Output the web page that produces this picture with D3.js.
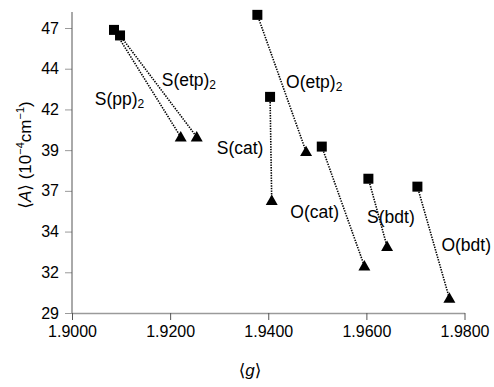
<!DOCTYPE html>
<html>
<head>
<meta charset="utf-8">
<script src="https://cdn.jsdelivr.net/npm/d3@7"></script>
<style>
  html, body { margin: 0; padding: 0; background: #fff; }
  svg { display: block; font-family: "Liberation Sans", Arial, sans-serif; }
</style>
</head>
<body>
<svg id="chart" width="494" height="387"></svg>
<script>
// ---- data ----
const seriesNames = ["S(pp)", "S(etp)", "S(cat)", "O(etp)", "O(cat)", "S(bdt)", "O(bdt)"];
const seriesSub   = ["2", "2", "", "2", "", "", ""];
const gSquare     = [1.90856, 1.90979, 1.94037, 1.93778, 1.95091, 1.96041, 1.97040];
const aSquare     = [46.88, 46.53, 42.65, 47.83, 39.51, 37.48, 36.98];
const gTriangle   = [1.92216, 1.92542, 1.94071, 1.94771, 1.95959, 1.96422, 1.97692];
const aTriangle   = [40.12, 40.12, 36.11, 39.19, 31.97, 33.20, 29.93];
const xTickValues = [1.90, 1.92, 1.94, 1.96, 1.98];
const yMin = 29, yMax = 47, yTickCount = 8;

// ---- layout (label offsets in px relative to the triangle point) ----
const labelOffsets = [[-86, -32], [-35, -51], [-55, -46], [-20, -64], [-74, -48], [-20, -24], [-8, -47]];

const svg = d3.select("#chart");
const x = d3.scaleLinear().domain([1.90, 1.98]).range([72, 464.5]);
const y = d3.scaleLinear().domain([yMin, yMax]).range([313, 28]);
const yTickValues = d3.range(yTickCount).map(i => yMin + i * (yMax - yMin) / (yTickCount - 1));

// x axis
const xAxis = svg.append("g").attr("transform", "translate(0,313)")
  .call(d3.axisBottom(x).tickValues(xTickValues).tickFormat(d3.format(".4f")).tickSize(7).tickSizeOuter(0).tickPadding(6));
xAxis.select(".domain").attr("stroke", "#9a9a9a").attr("stroke-width", 1.5);
xAxis.selectAll(".tick line").attr("stroke", "#555");
xAxis.selectAll(".tick text").attr("font-size", 16).attr("fill", "#000")
  .attr("font-family", "'Liberation Sans', Arial, sans-serif");

// y axis
const yAxis = svg.append("g").attr("transform", "translate(72,0)")
  .call(d3.axisLeft(y).tickValues(yTickValues).tickFormat(d3.format(".0f")).tickSize(7).tickSizeOuter(0).tickPadding(6));
yAxis.select(".domain").remove();
yAxis.append("line").attr("x1", 0).attr("x2", 0).attr("y1", 12).attr("y2", 313)
  .attr("stroke", "#555").attr("stroke-width", 1);
yAxis.selectAll(".tick line").attr("stroke", "#9a9a9a");
yAxis.selectAll(".tick text").attr("font-size", 16).attr("fill", "#000")
  .attr("font-family", "'Liberation Sans', Arial, sans-serif");

// connecting dotted lines
const idx = d3.range(seriesNames.length);
svg.append("g").selectAll("line").data(idx).join("line")
  .attr("x1", i => x(gSquare[i])).attr("y1", i => y(aSquare[i]))
  .attr("x2", i => x(gTriangle[i])).attr("y2", i => y(aTriangle[i]))
  .attr("stroke", "#000").attr("stroke-width", 1.6).attr("stroke-dasharray", "1.4,1.2");

// squares
const sq = 10;
svg.append("g").selectAll("rect").data(idx).join("rect")
  .attr("x", i => x(gSquare[i]) - sq / 2).attr("y", i => y(aSquare[i]) - sq / 2)
  .attr("width", sq).attr("height", sq).attr("fill", "#000");

// triangles
const tri = d3.symbol().type(d3.symbolTriangle).size(62);
svg.append("g").selectAll("path").data(idx).join("path")
  .attr("d", tri)
  .attr("transform", i => `translate(${x(gTriangle[i])},${y(aTriangle[i]) + 1})`)
  .attr("fill", "#000");

// series labels
const lab = svg.append("g").attr("font-size", 17.5).attr("fill", "#000");
idx.forEach(i => {
  const t = lab.append("text")
    .attr("x", x(gTriangle[i]) + labelOffsets[i][0])
    .attr("y", y(aTriangle[i]) + labelOffsets[i][1]);
  t.append("tspan").text(seriesNames[i]);
  if (seriesSub[i]) t.append("tspan").attr("font-size", 12).attr("dy", 3).text(seriesSub[i]);
});

// axis titles
svg.append("text").attr("x", 250).attr("y", 376).attr("text-anchor", "middle").attr("font-size", 17)
  .html('<tspan font-family="DejaVu Sans" font-size="17">⟨</tspan><tspan font-style="italic">g</tspan><tspan font-family="DejaVu Sans" font-size="17">⟩</tspan>');

svg.append("text").attr("transform", "translate(31,155) rotate(-90)").attr("text-anchor", "middle").attr("font-size", 17)
  .html('<tspan font-family="DejaVu Sans" font-size="17">⟨</tspan><tspan font-style="italic">A</tspan><tspan font-family="DejaVu Sans" font-size="17">⟩</tspan> (10<tspan font-size="11" dy="-7">−4</tspan><tspan dy="7">cm</tspan><tspan font-size="11" dy="-7">−1</tspan><tspan dy="7">)</tspan>');
</script>
</body>
</html>
